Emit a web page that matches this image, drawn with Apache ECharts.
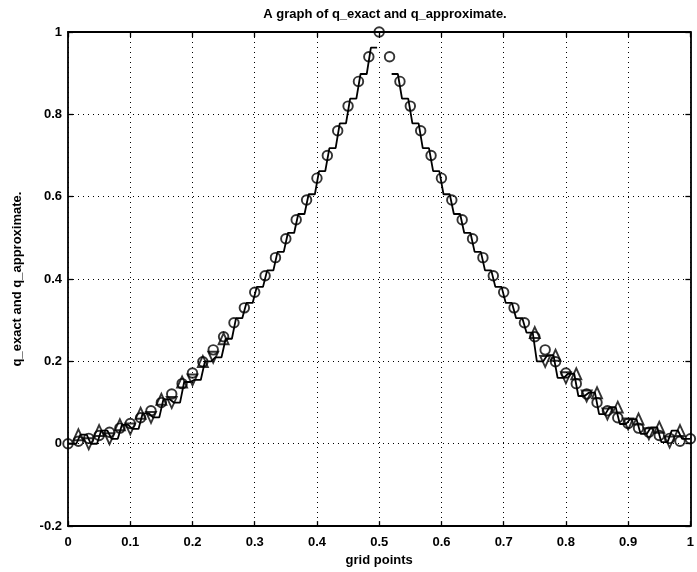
<!DOCTYPE html>
<html>
<head>
<meta charset="utf-8">
<script src="https://cdn.jsdelivr.net/npm/echarts@6/dist/echarts.min.js"></script>
<style>
  html, body { margin: 0; padding: 0; background: #fff; }
  #chart { width: 697px; height: 572px; }
</style>
</head>
<body>
<div id="chart"></div>
<script>
// ---------------- data ----------------
const titleText = 'A graph of q_exact and q_approximate.';
const xLabel = 'grid points';
const yLabel = 'q_exact and q_approximate.';
const nCells = 60; // grid points x_i = i / nCells

// exact solution at the 61 grid points (circles)
const qExact = [
  0.0, 0.006, 0.013, 0.02, 0.028, 0.038, 0.049, 0.063, 0.08, 0.10,
  0.121, 0.146, 0.172, 0.199, 0.228, 0.26, 0.294, 0.33, 0.368, 0.408,
  0.452, 0.498, 0.544, 0.592, 0.645, 0.70, 0.76, 0.82, 0.88, 0.94,
  1.0,
  0.94, 0.88, 0.82, 0.76, 0.70, 0.645, 0.592, 0.544, 0.498, 0.452,
  0.408, 0.368, 0.33, 0.294, 0.26, 0.228, 0.199, 0.172, 0.146, 0.121,
  0.10, 0.08, 0.063, 0.049, 0.038, 0.028, 0.02, 0.013, 0.006, 0.012
];

// approximate solution: one level per cell (staircase line), null = gap
const qApproxCell = [
  0.0, 0.022, 0.0, 0.032, 0.012, 0.046, 0.036, 0.074, 0.064, 0.108,
  0.10, 0.15, 0.155, 0.2, 0.21, 0.255,
  0.305, 0.342, 0.381, 0.421, 0.466, 0.512, 0.558, 0.606, 0.662, 0.718,
  0.778, 0.838, 0.898, 0.962,
  null,
  0.898, 0.838, 0.778, 0.718, 0.662, 0.606, 0.558, 0.512, 0.466, 0.421,
  0.381, 0.342, 0.305,
  0.27, 0.2, 0.215, 0.16, 0.17, 0.116, 0.124, 0.072, 0.089, 0.048,
  0.06, 0.024, 0.04, 0.004, 0.032, 0.012
];

// oscillation markers of the approximation near the boundaries
const triUpIdx = [1, 3, 5, 7, 9, 11, 13, 15, 45, 47, 49, 51, 53, 55, 57, 59];
const triUpVal = [0.022, 0.032, 0.046, 0.074, 0.108, 0.15, 0.2, 0.255,
                  0.27, 0.215, 0.17, 0.124, 0.089, 0.06, 0.04, 0.032];
const triDownIdx = [2, 4, 6, 8, 10, 12, 14, 46, 48, 50, 52, 54, 56, 58];
const triDownVal = [0.0, 0.012, 0.036, 0.064, 0.10, 0.155, 0.21,
                    0.2, 0.16, 0.116, 0.072, 0.048, 0.024, 0.004];

// ---------------- build ----------------
const h = 1 / nCells;
const gx = i => i / nCells;
const exactData = qExact.map((v, i) => [gx(i), v]);

// staircase segments
const segments = [];
let cur = [];
qApproxCell.forEach((v, j) => {
  if (v === null) { if (cur.length) segments.push(cur); cur = []; return; }
  const x0 = j === 0 ? 0 : gx(j) + 0.2 * h;
  const x1 = j === nCells - 1 ? 1 : gx(j + 1) - 0.2 * h;
  cur.push([x0, v], [x1, v]);
});
if (cur.length) segments.push(cur);

const upData = triUpIdx.map((i, k) => [gx(i), triUpVal[k]]);
const downData = triDownIdx.map((i, k) => [gx(i), triDownVal[k]]);

const FONT = '"Liberation Sans", Arial, Helvetica, sans-serif';
const dotted = { color: '#000', width: 1, type: [1, 4] };
const markStyle = { color: 'rgba(255,255,255,0)', borderColor: '#000', borderWidth: 1.9 };

const series = [];
segments.forEach(seg => series.push({
  type: 'line', data: seg, showSymbol: false, symbol: 'none',
  lineStyle: { color: '#000', width: 1.8 }, animation: false, z: 3
}));
series.push({
  type: 'scatter', data: exactData, symbol: 'circle', symbolSize: 9.5,
  itemStyle: markStyle, clip: false, animation: false, z: 4
});
series.push({
  type: 'scatter', data: upData, symbol: 'triangle', symbolSize: [10, 11],
  itemStyle: markStyle, clip: false, animation: false, z: 4
});
series.push({
  type: 'scatter', data: downData, symbol: 'triangle', symbolSize: [10, 11], symbolRotate: 180,
  itemStyle: markStyle, clip: false, animation: false, z: 4
});

const axisLineStyle = { color: '#000', width: 1.8 };
const tickStyle = { show: true, inside: true, length: 5, lineStyle: { color: '#000', width: 1.3 } };
const labelFont = { fontFamily: FONT, fontSize: 13, fontWeight: 'bold', color: '#000' };

const chart = echarts.init(document.getElementById('chart'), null, { renderer: 'canvas' });
chart.setOption({
  backgroundColor: '#fff',
  animation: false,
  title: {
    text: titleText, left: 380, top: 3, textAlign: 'center',
    textStyle: labelFont
  },
  grid: { left: 68, right: 5, top: 32, bottom: 45 },
  xAxis: [{
    type: 'value', min: 0, max: 1, interval: 0.1, position: 'bottom',
    name: xLabel, nameLocation: 'middle', nameGap: 24, nameTextStyle: labelFont,
    axisLine: { show: true, onZero: false, lineStyle: axisLineStyle },
    axisTick: tickStyle,
    axisLabel: Object.assign({ margin: 10, formatter: v => String(Math.round(v * 10) / 10) }, labelFont),
    splitLine: { show: true, lineStyle: dotted }
  }, {
    type: 'value', min: 0, max: 1, interval: 0.1, position: 'top',
    axisLine: { show: true, onZero: false, lineStyle: axisLineStyle },
    axisTick: tickStyle,
    axisLabel: { show: false }, splitLine: { show: false }
  }],
  yAxis: [{
    type: 'value', min: -0.2, max: 1, interval: 0.2, position: 'left',
    name: yLabel, nameLocation: 'middle', nameGap: 44, nameTextStyle: labelFont,
    axisLine: { show: true, onZero: false, lineStyle: axisLineStyle },
    axisTick: tickStyle,
    axisLabel: Object.assign({ margin: 6, formatter: v => String(Math.round(v * 10) / 10) }, labelFont),
    splitLine: { show: true, lineStyle: dotted }
  }, {
    type: 'value', min: -0.2, max: 1, interval: 0.2, position: 'right',
    axisLine: { show: true, onZero: false, lineStyle: axisLineStyle },
    axisTick: tickStyle,
    axisLabel: { show: false }, splitLine: { show: false }
  }],
  series: series
});
</script>
</body>
</html>
